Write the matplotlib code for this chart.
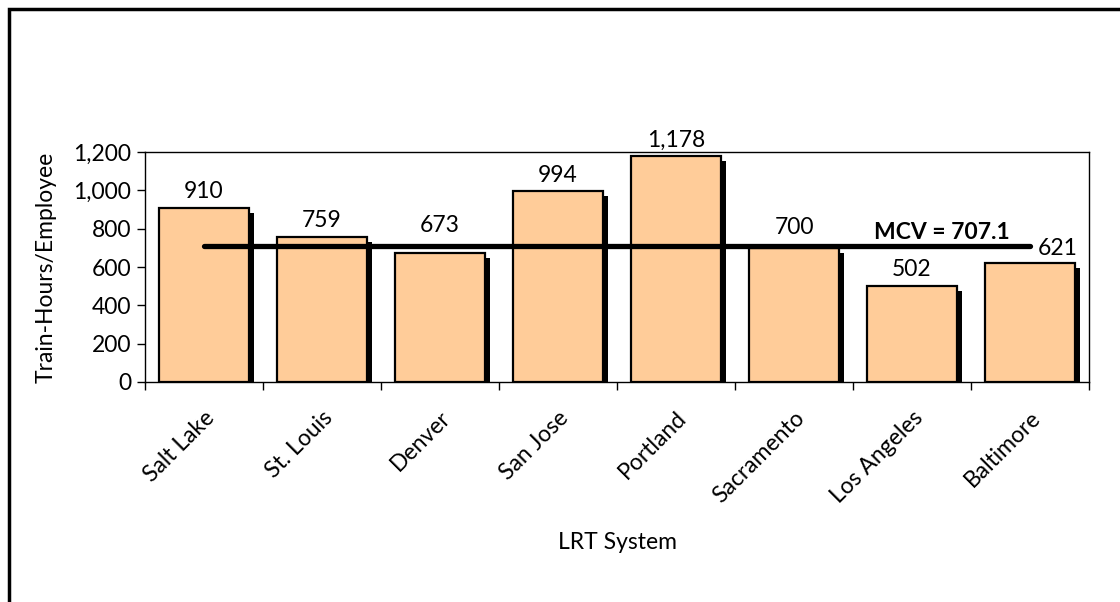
import numpy as np
import matplotlib.pyplot as plt
from matplotlib.transforms import ScaledTranslation
from matplotlib.patches import Rectangle

plt.rcParams['font.family'] = ['Lato', 'DejaVu Sans']

systems = ['Salt Lake', 'St. Louis', 'Denver', 'San Jose', 'Portland',
           'Sacramento', 'Los Angeles', 'Baltimore']
train_hours = [910, 759, 673, 994, 1178, 700, 502, 621]
mcv = 707.1
yticks = [0, 200, 400, 600, 800, 1000, 1200]

fs = 16.5

fig = plt.figure(figsize=(11.2, 6.02), dpi=100)
# outer chart border
fig.patches.append(Rectangle((9 / 1120, -0.05), 1.1, 1.05 - 9 / 602,
                             transform=fig.transFigure, fill=False,
                             edgecolor='black', linewidth=2.5))

ax = fig.add_axes([145 / 1120, 1 - 382 / 602, (1089 - 145) / 1120, 230 / 602])

x = np.arange(len(systems))
shadow = ax.transData + ScaledTranslation(5 / 100, -5 / 100, fig.dpi_scale_trans)
ax.bar(x, train_hours, width=0.77, color='black', transform=shadow, zorder=1)
ax.bar(x, train_hours, width=0.77, color='#FFCC99', edgecolor='black',
       linewidth=1.6, zorder=2)

# Excel nudged some labels to clear the MCV line
label_dx = [0, 0, 0, 0, 0, 0, 0, 20]
label_dy = [4, 4, 12, 4, 4, 7, 4, 3]
for xi, v, dx, dy in zip(x, train_hours, label_dx, label_dy):
    ax.annotate(f'{v:,}', (xi, v), xytext=(dx, dy), textcoords='offset points',
                ha='center', va='bottom', fontsize=fs)

ax.plot([x[0], x[-1]], [mcv, mcv], color='black', linewidth=3.8, zorder=3,
        solid_capstyle='round')
ax.text(6.25, mcv + 20, f'MCV = {mcv}', fontsize=fs, fontweight='bold',
        ha='center', va='bottom')

ax.set_xlim(-0.5, len(systems) - 0.5)
ax.set_ylim(0, 1200)
ax.set_yticks(yticks)
ax.set_yticklabels([f'{t:,}' for t in yticks], fontsize=fs)
ax.set_xticks(x)
ax.set_xticklabels(systems, rotation=45, ha='right', rotation_mode='anchor',
                   fontsize=fs)
ax.tick_params(axis='x', length=0, pad=18)
ax.set_xticks(np.arange(-0.5, len(systems)), minor=True)
ax.tick_params(axis='x', which='minor', length=6, width=1)
ax.tick_params(axis='y', length=6, width=1, pad=4)
for s in ax.spines.values():
    s.set_linewidth(1)

ax.set_xlabel('LRT System', fontsize=fs, labelpad=18)
ax.set_ylabel('Train-Hours/Employee', fontsize=fs, labelpad=12)

fig.savefig('out.png', dpi=100)
